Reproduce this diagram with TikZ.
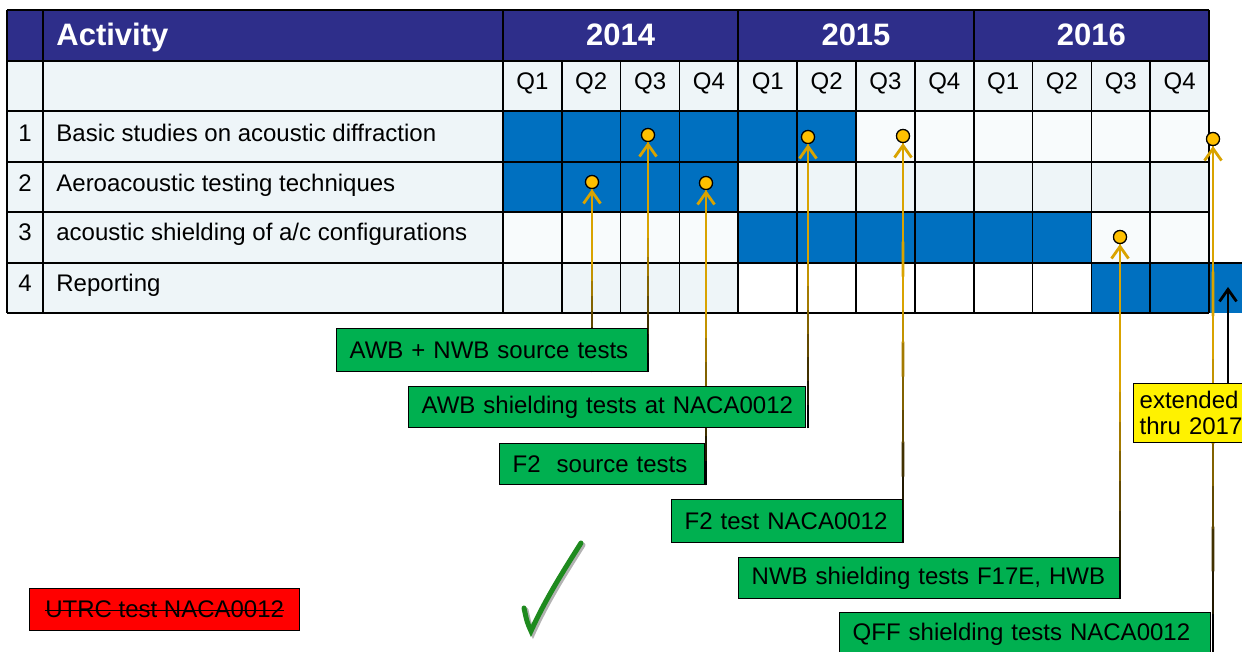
\documentclass[tikz,border=0pt]{standalone}
\usepackage{fontspec}
\setmainfont{Liberation Sans}
\usetikzlibrary{arrows.meta,calc,positioning}

\definecolor{hdrblue}{HTML}{2E2E8A}
\definecolor{barblue}{HTML}{0070C0}
\definecolor{lcell}{HTML}{EEF5F8}
\definecolor{wcell}{HTML}{F8FBFC}
\definecolor{msgold}{HTML}{FFC000}
\definecolor{lnkgold}{HTML}{D9A300}
\definecolor{boxgreen}{HTML}{00B050}
\definecolor{checkgreen}{HTML}{1E8A1E}

\tikzset{
  hdrtext/.style={text=white,inner xsep=0pt,font=\fontsize{15.5}{18}\selectfont\bfseries},
  celltext/.style={inner xsep=0pt},
  mstone/.style={circle,draw=black,fill=msgold,line width=0.6pt,minimum size=6.5pt,inner sep=0pt},
  testbox/.style={draw=black,fill=boxgreen,line width=0.7pt,anchor=north west,align=left,
    inner xsep=6.5pt,inner ysep=0pt,text width=#1},
  notebox/.style={draw=black,fill=yellow,line width=0.7pt,anchor=north west,align=left,
    inner xsep=3pt,inner ysep=0pt,text width=#1,font=\fontsize{12}{13}\selectfont},
  dropbox/.style={draw=black,fill=red,line width=0.7pt,anchor=north west,
    minimum width=#1,inner sep=0pt},
  lnk/.style={line width=1.4pt},
}

% gold-to-black link from box #2 up to milestone #1
\newcommand{\lnk}[2]{%
  \coordinate (#1foot) at (#2.south -| #1.south);
  \foreach \k in {0,...,11}{%
    \pgfmathsetmacro{\ta}{\k/12}\pgfmathsetmacro{\tb}{(\k+1.05)/12}%
    \pgfmathtruncatemacro{\p}{min(100,\k*15)}%
    \draw[lnk,lnkgold!\p!black] ($(#1foot)!\ta!(#1.south)$) -- ($(#1foot)!\tb!(#1.south)$);}
  \draw[lnk,lnkgold,->] ($(#1.south)+(0,14)$) -- (#1.south);}

\begin{document}
\begin{tikzpicture}[x=0.5pt,y=-0.5pt,>={Straight Barb[length=6pt,width=8.5pt]},
  every node/.style={font=\fontsize{12}{14}\selectfont}]
  \useasboundingbox (0,0) rectangle (1242,652);
  \clip (0,0) rectangle (1242,652);
  \def\cw{58.833}

  % cells
  \fill[lcell] (7,61) rectangle (1209,313);
  \fill[wcell] (856,111) rectangle (1209,162);
  \fill[wcell] (503,212) rectangle (738,263);
  \fill[wcell] (1091,212) rectangle (1209,263);
  \fill[white] (738,263) rectangle (1091,313);
  \fill[barblue] (503,111) rectangle (856,162);
  \fill[barblue] (503,162) rectangle (738,212);
  \fill[barblue] (738,212) rectangle (1091,263);
  \fill[barblue] (1091,263) rectangle (1242,313);
  \fill[hdrblue] (7,10) rectangle (1209,61);

  % grid
  \foreach \y in {10,61,111,162,212,263,313}
    \draw[line width=0.7pt] (7,\y) -- (1209,\y);
  \draw[line width=0.7pt] (1209,263) -- (1242,263);
  \foreach \x in {7,43,503,738,974,1209}
    \draw[line width=0.7pt] (\x,10) -- (\x,313);
  \foreach \i in {1,...,11}
    \draw[line width=0.7pt] ({503+\i*\cw},61) -- ({503+\i*\cw},313);
  \draw[line width=1.2pt] (1209,263) -- (1209,313);

  % header
  \node[hdrtext,anchor=base west] (act) at (56,46) {Activity};
  \foreach \yr [count=\i from 0] in {2014,2015,2016}
    \node[hdrtext,anchor=base] (yr\yr) at ({503+(\i*4+2)*\cw},46) {\yr};
  \foreach \i in {0,...,11}{
    \pgfmathtruncatemacro{\q}{mod(\i,4)+1}
    \node[celltext,anchor=base] (q\i) at ({503+(\i+0.5)*\cw},90) {Q\q};
  }

  % activities
  \foreach \n/\lbl/\yb in {1/Basic studies on acoustic diffraction/142,
      2/Aeroacoustic testing techniques/192,
      3/{acoustic shielding of a/c configurations}/241,
      4/Reporting/292}{
    \node[celltext,anchor=base] (num\n) at (25,\yb) {\n};
    \node[celltext,anchor=base west] (act\n) at (56,\yb) {\lbl};
  }

  % milestones
  \node[mstone] (ms22) at (592,182) {};
  \node[mstone] (ms13) at (648,135) {};
  \node[mstone] (ms16) at (808,137) {};
  \node[mstone] (ms24) at (706,183) {};
  \node[mstone] (ms17) at (903,136) {};
  \node[mstone] (ms311) at (1120,237) {};
  \node[mstone] (ms113) at (1213,139) {};

  % test boxes (placed first as coordinates for the links)
  \path (336,328) node[testbox=142.5pt,minimum height=21.5pt] (awbnwb) {};
  \path (408,386) node[testbox=185.5pt,minimum height=20.5pt] (awbshd) {};
  \path (499,443) node[testbox=89.5pt,minimum height=20.5pt] (f2src) {};
  \path (671,499) node[testbox=102.5pt,minimum height=21.5pt] (f2naca) {};
  \path (738,557) node[testbox=177.5pt,minimum height=20.5pt] (nwbshd) {};
  \path (839,612) node[testbox=172.5pt,minimum height=21.5pt] (qffshd) {};

  % links
  \lnk{ms22}{awbnwb}
  \lnk{ms13}{awbnwb}
  \lnk{ms16}{awbshd}
  \lnk{ms24}{f2src}
  \lnk{ms17}{f2naca}
  \lnk{ms311}{nwbshd}
  \lnk{ms113}{qffshd}

  % boxes
  \node[testbox=142.5pt,minimum height=21.5pt] at (awbnwb.north west) {\mbox{AWB + NWB source tests}};
  \node[testbox=185.5pt,minimum height=20.5pt] at (awbshd.north west) {\mbox{AWB shielding tests at NACA0012}};
  \node[testbox=89.5pt,minimum height=20.5pt] at (f2src.north west) {\mbox{F2~ source tests}};
  \node[testbox=102.5pt,minimum height=21.5pt] at (f2naca.north west) {\mbox{F2 test NACA0012}};
  \node[testbox=177.5pt,minimum height=20.5pt] at (nwbshd.north west) {\mbox{NWB shielding tests F17E, HWB}};
  \node[testbox=172.5pt,minimum height=21.5pt] at (qffshd.north west) {\mbox{QFF shielding tests NACA0012}};
  \node[notebox=54pt,minimum height=29.5pt] (extnote) at (1133,383) {extended\\thru 2017};
  \coordinate (exttip) at (1228,287);
  \draw[lnk,black,->] (extnote.north -| exttip) -- (exttip);
  \node[dropbox=135pt,minimum height=21pt] (utrc) at (29,588) {};
  \node[inner sep=0pt] (utrctxt) at (utrc.center) {UTRC test NACA0012};
  \draw[line width=0.5pt] ($(utrctxt.west)+(0,1)$) -- ($(utrctxt.east)+(0,1)$);

  % milestones on top
  \foreach \m in {ms22,ms13,ms16,ms24,ms17,ms311,ms113}
    \node[mstone] at (\m) {};

  % check mark
  \draw[gray!60,line width=2.5pt,line cap=round] (526,610) .. controls (529,624) .. (533,633)
    .. controls (548,600) and (566,572) .. (583,545);
  \draw[checkgreen,line width=2.5pt,line cap=round] (524,608) .. controls (527,622) .. (531,631)
    .. controls (546,598) and (564,570) .. (581,543);
\end{tikzpicture}
\end{document}
